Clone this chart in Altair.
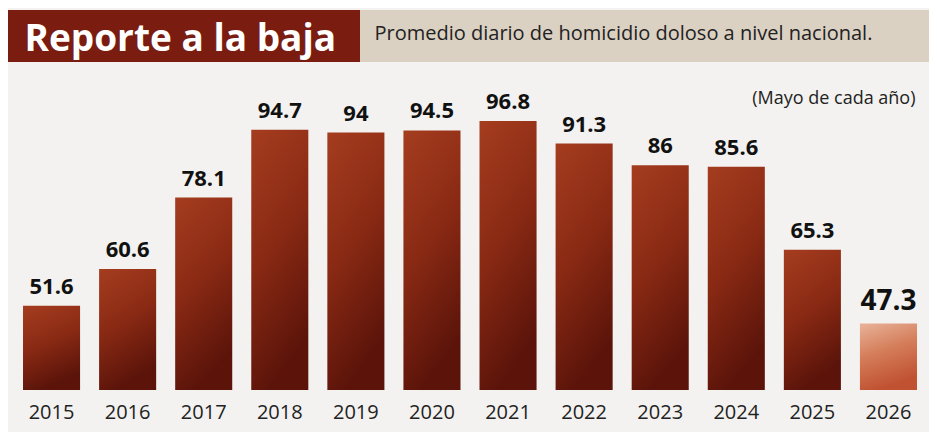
import altair as alt
import pandas as pd

years = ["2015", "2016", "2017", "2018", "2019", "2020", "2021", "2022", "2023", "2024", "2025", "2026"]
values = [51.6, 60.6, 78.1, 94.7, 94.0, 94.5, 96.8, 91.3, 86.0, 85.6, 65.3, 47.3]

df = pd.DataFrame({"year": years, "value": values})
df["label"] = [f"{v:g}" for v in values]
df["base"] = 31

xs = alt.X("year:N", sort=years,
           scale=alt.Scale(paddingInner=0.25, paddingOuter=0.125),
           axis=alt.Axis(title=None, labelAngle=0, ticks=False, domain=False,
                         labelFontSize=20, labelColor="#222222", labelPadding=12,
                         labelFont="Open Sans"))
ys = alt.Y("value:Q", scale=alt.Scale(domain=[31, 100], zero=False, nice=False),
           axis=None)

base = alt.Chart(df)

dark_grad = alt.Gradient(gradient="linear", x1=0, y1=0, x2=0.3, y2=1,
                         stops=[alt.GradientStop(color="#a53d1f", offset=0),
                                alt.GradientStop(color="#8a2a14", offset=0.5),
                                alt.GradientStop(color="#5c140a", offset=1)])
light_grad = alt.Gradient(gradient="linear", x1=0, y1=0, x2=0.3, y2=1,
                          stops=[alt.GradientStop(color="#e8b39a", offset=0),
                                 alt.GradientStop(color="#d47c58", offset=0.5),
                                 alt.GradientStop(color="#c05232", offset=1)])

bars_dark = base.transform_filter("datum.year != '2026'").mark_bar(color=dark_grad).encode(
    x=xs, y=ys, y2="base:Q")
bars_light = base.transform_filter("datum.year == '2026'").mark_bar(color=light_grad).encode(
    x=xs, y=ys, y2="base:Q")

labels = base.transform_filter("datum.year != '2026'").mark_text(
    baseline="bottom", dy=-7, fontSize=22, fontWeight="bold", font="Open Sans",
    color="#111111").encode(x=xs, y=ys, text="label:N")
label_last = base.transform_filter("datum.year == '2026'").mark_text(
    baseline="bottom", dy=-7, fontSize=28, fontWeight="bold", font="Open Sans",
    color="#111111").encode(x=xs, y=ys, text="label:N")

# header band
head_df = pd.DataFrame({"t": ["Reporte a la baja"]})
beige = alt.Chart(head_df).mark_rect(color="#dbd1c2", clip=False).encode(
    x=alt.value(346.5), x2=alt.value(915.5), y=alt.value(-98), y2=alt.value(-46))
redbox = alt.Chart(head_df).mark_rect(color="#7a1c10", clip=False).encode(
    x=alt.value(-5.5), x2=alt.value(346.5), y=alt.value(-98), y2=alt.value(-46))
title = alt.Chart(head_df).mark_text(
    text="Reporte a la baja", align="left", baseline="alphabetic", fontSize=37,
    fontWeight="bold", font="Open Sans", color="white").encode(
    x=alt.value(11), y=alt.value(-57))
subtitle = alt.Chart(head_df).mark_text(
    text="Promedio diario de homicidio doloso a nivel nacional.", align="left",
    baseline="middle", fontSize=20, font="Open Sans", color="#222222").encode(
    x=alt.value(361), y=alt.value(-74))
note = alt.Chart(head_df).mark_text(
    text="(Mayo de cada año)", align="right", baseline="middle", fontSize=18,
    font="Open Sans", color="#222222").encode(
    x=alt.value(902), y=alt.value(-9))

chart = alt.layer(beige, redbox, title, subtitle, note,
                  bars_dark, bars_light, labels, label_last).properties(
    width=913, height=282,
    padding={"left": 5.5, "top": 100, "right": 2.5, "bottom": 42},
    autosize=alt.AutoSizeParams(type="none"),
    background="#f3f2f0",
).configure_view(stroke=None)

chart.save("out.html", embed_options={"renderer": "svg", "actions": False})
